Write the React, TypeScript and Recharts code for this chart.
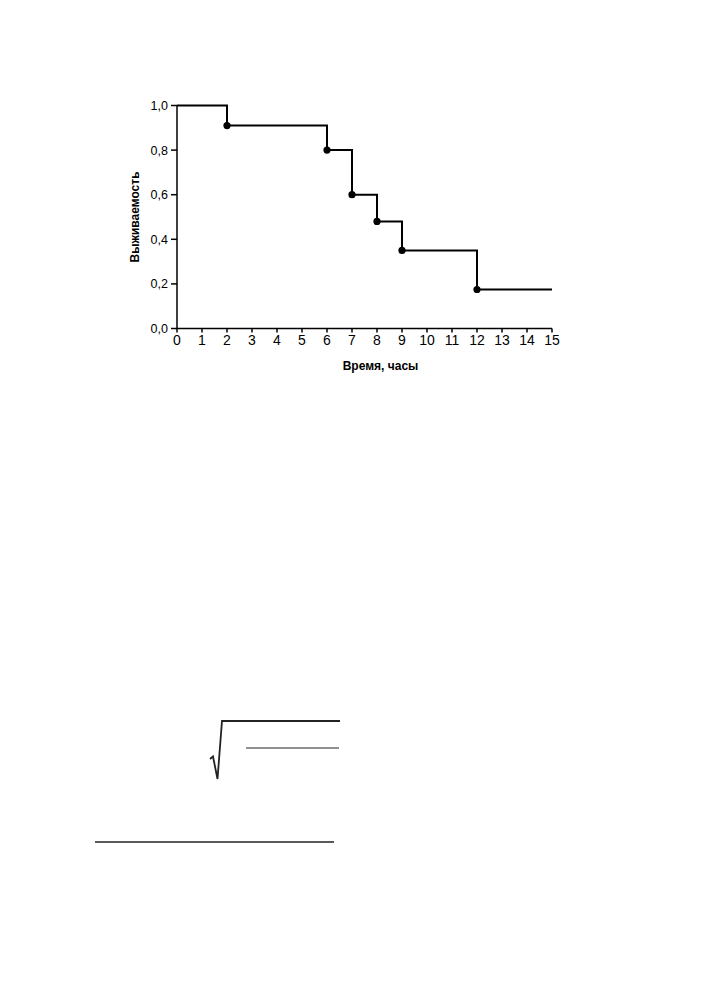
import React from 'react';
import { LineChart, Line, XAxis, YAxis } from 'recharts';

// Kaplan-Meier survival curve
const times = [0, 2, 6, 7, 8, 9, 12, 15];
const survival = [1.0, 0.91, 0.8, 0.6, 0.48, 0.35, 0.175, 0.175];
const xTicks = [0, 1, 2, 3, 4, 5, 6, 7, 8, 9, 10, 11, 12, 13, 14, 15];
const yTicks = [0, 0.2, 0.4, 0.6, 0.8, 1.0];

const data = times.map((t, i) => ({ t, s: survival[i] }));

const FONT = '"Liberation Sans", Arial, sans-serif';

const EventDot = (props: any) => {
  const { cx, cy, index } = props;
  if (index === 0 || index === data.length - 1) {
    return <g key={`d-${index}`} />;
  }
  return <circle key={`d-${index}`} cx={cx} cy={cy} r={3.6} fill="#000" />;
};

export default function App() {
  return (
    <div style={{ fontFamily: FONT }}>
      <LineChart
        width={689}
        height={400}
        data={data}
        margin={{ top: 97.5, right: 145, left: 85, bottom: 4.5 }}
      >
        <XAxis
          dataKey="t"
          type="number"
          domain={[0, 15]}
          ticks={xTicks}
          interval={0}
          tickSize={4}
          tickMargin={3}
          height={75}
          stroke="#000"
          strokeWidth={1.5}
          tick={{ fill: '#000', fontSize: 14, fontFamily: FONT }}
          label={{
            value: 'Время, часы',
            position: 'center',
            dx: 16,
            fill: '#000',
            fontSize: 12,
            fontWeight: 'bold',
            fontFamily: FONT,
          }}
        />
        <YAxis
          type="number"
          domain={[0, 1]}
          ticks={yTicks}
          interval={0}
          tickSize={6}
          tickMargin={3}
          width={84}
          stroke="#000"
          strokeWidth={1.5}
          tickFormatter={(v: number) => v.toFixed(1).replace('.', ',')}
          tick={{ fill: '#000', fontSize: 12.5, fontFamily: FONT }}
          label={{
            value: 'Выживаемость',
            angle: -90,
            position: 'center',
            fill: '#000',
            fontSize: 12,
            fontWeight: 'bold',
            fontFamily: FONT,
          }}
        />
        <Line
          type="stepAfter"
          dataKey="s"
          stroke="#000"
          strokeWidth={2}
          dot={EventDot}
          activeDot={false}
          isAnimationActive={false}
        />
      </LineChart>
      {/* stray marks from the scanned page below the figure */}
      <svg width={689} height={500} style={{ display: 'block' }}>
        <g transform="translate(-8,-408)">
          <polyline
            points="210,759 213,756.5 217.5,779 222,721 340,721"
            fill="none"
            stroke="#222"
            strokeWidth={1.8}
          />
          <line x1={246} y1={748} x2={339} y2={748} stroke="#222" strokeWidth={1.2} />
          <line x1={95} y1={842} x2={334} y2={842} stroke="#222" strokeWidth={1.6} />
        </g>
      </svg>
    </div>
  );
}
